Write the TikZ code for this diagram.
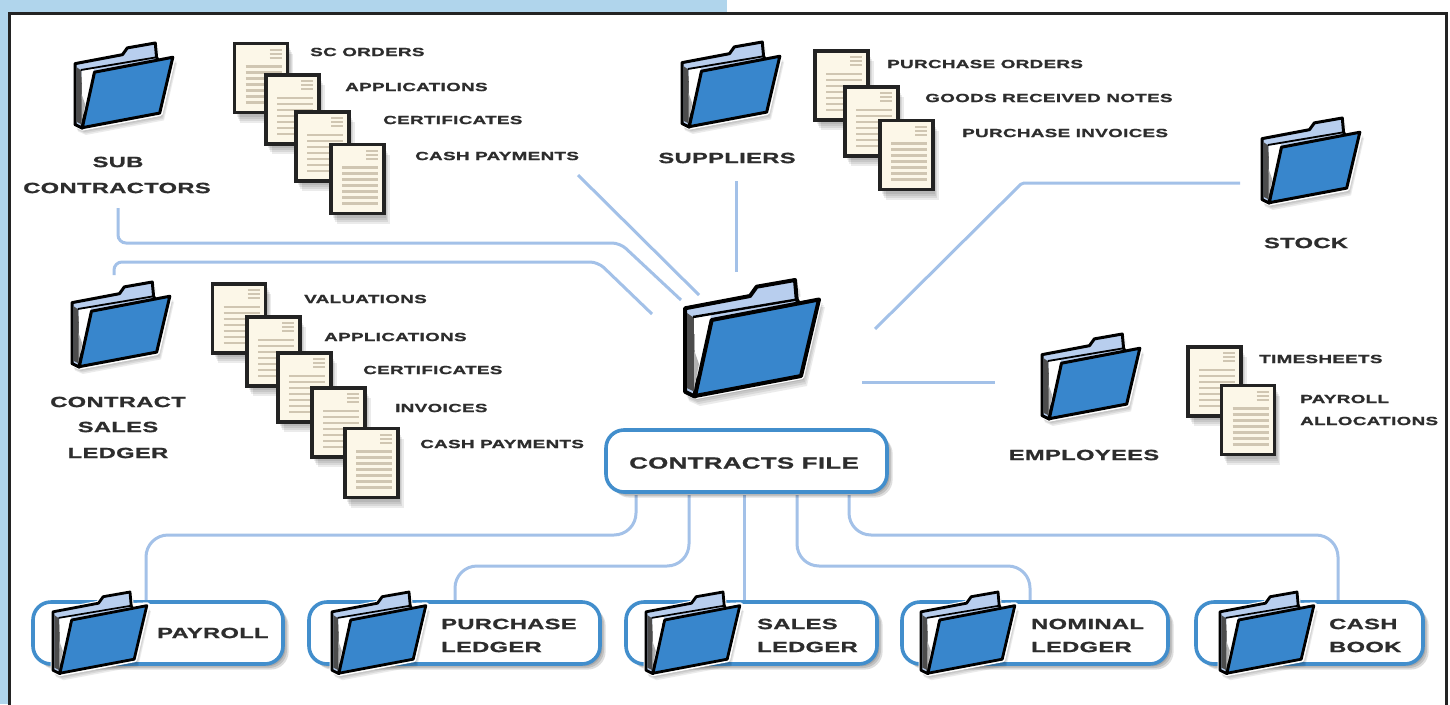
\documentclass[tikz,border=0pt]{standalone}
\usepackage{fontspec}
\newfontfamily\labelfont[FakeStretch=1.6,FakeBold=1.2,LetterSpace=2.5]{Liberation Sans Bold}
\definecolor{pagebg}{RGB}{176,213,236}
\definecolor{frameink}{RGB}{35,35,35}
\definecolor{linkblue}{RGB}{163,193,232}
\definecolor{boxblue}{RGB}{66,142,204}
\definecolor{folderblue}{RGB}{56,134,204}
\definecolor{tabblue}{RGB}{184,206,238}
\definecolor{papercream}{RGB}{252,247,232}
\definecolor{papertan}{RGB}{208,198,178}
\definecolor{textink}{RGB}{45,45,45}
\tikzset{
  x=1pt,y=-1pt,
  link/.style={draw=linkblue,line width=3pt,rounded corners=8pt},
  tinylabel/.style={font=\labelfont\fontsize{11.8}{11.8}\selectfont,text=textink,inner sep=0pt,anchor=west,yshift=-1pt},
  biglabel/.style={font=\labelfont\fontsize{14.8}{14.8}\selectfont,text=textink,inner sep=0pt,yshift=-1pt},
  filelabel/.style={font=\labelfont\fontsize{16.1}{16.1}\selectfont,text=textink,inner sep=0pt,yshift=-1pt},
  boxlabel/.style={font=\labelfont\fontsize{14.8}{14.8}\selectfont,text=textink,inner sep=0pt,anchor=west,yshift=-1pt},
  softshadow/.style={fill=black,fill opacity=.08,draw=none},
  labelbox/.style={draw=boxblue,line width=3.6pt,fill=white,rounded corners=18pt},
  pics/folder/.style={code={
    \foreach \d in {3,5,7,9}{
      \fill[softshadow,shift={(\d*.55,\d)}] (-1,28) -- (65,16) -- (72,7) -- (110,0) -- (112,19) -- (135,18) -- (117,97) -- (10,117) -- (-1,112) -- cycle;
    }
    \fill[white,draw=white,line width=5pt,line join=round] (0,28.3) -- (65,16) -- (71.7,6.7) -- (110,0) -- (111.7,19.3) -- (135,18.3) -- (116.7,96.7) -- (10,116.7) -- (0,111.7) -- cycle;
    \filldraw[fill=tabblue,draw=black,line width=#1,line join=round] (0,28.3) -- (65,16) -- (71.7,6.7) -- (110,0) -- (111.7,19.3) -- (116,28) -- (10,48) -- (10,116.7) -- (0,111.7) -- cycle;
    \fill[black!70] (2,33) -- (9,38) -- (10,112) -- (2,108) -- cycle;
    \fill[white] (9,38) -- (26,35) -- (10,104) -- cycle;
    \fill[black!30] (9,70) -- (14,84) -- (10,104) -- (9,110) -- cycle;
    \draw[black,line width=.6*#1] (8,37) -- (112,19.5);
    \filldraw[fill=folderblue,draw=black,line width=#1,line join=round] (26.7,40) -- (134,19.5) -- (116,96) -- (10,116) -- cycle;
  }},
  pics/sheet/.style={code={
    \foreach \d in {4,6,8,10}{
      \fill[softshadow,shift={(\d*.55,\d)}] (0,0) rectangle (53,69);
    }
    \filldraw[fill=papercream,draw=frameink,line width=3.4pt] (0,0) rectangle (53,69);
    \foreach \yy in {6,10,14}{\draw[papertan,line width=2pt] (35,\yy) -- (47,\yy);}
    \foreach \yy in {23,29,35,41,47,53,59}{\draw[papertan,line width=2.2pt] (11,\yy) -- (47,\yy);}
  }},
}
\newcommand{\labelboxat}[4]{%
  \foreach \d in {3,5,7}{\fill[softshadow,fill opacity=.13,rounded corners=18pt,shift={(\d*.8,\d*.8)}] (#1,#2) rectangle (#3,#4);}
  \path[labelbox] (#1,#2) rectangle (#3,#4);
}
\begin{document}
\begin{tikzpicture}
\useasboundingbox (0,0) rectangle (1450,704);
\fill[white] (0,0) rectangle (1450,704);
\fill[pagebg] (0,0) rectangle (727,12);
\fill[pagebg] (0,0) rectangle (9,704);
\draw[frameink,line width=3pt] (9.5,706) -- (9.5,13) -- (1446,13) -- (1446,706);

\coordinate (a1) at (118,208); \coordinate (a2) at (681,300);
\coordinate (b1) at (114,275); \coordinate (b2) at (652,314);
\coordinate (c1) at (578,175); \coordinate (c2) at (699,295);
\coordinate (d1) at (736,181); \coordinate (d2) at (736,272);
\coordinate (e1) at (1240,183); \coordinate (e2) at (875,329);
\coordinate (g1) at (862,382); \coordinate (g2) at (995,382);
\coordinate (p1) at (636,495); \coordinate (p2) at (146,600);
\coordinate (q1) at (689,495); \coordinate (q2) at (455,604);
\coordinate (r1) at (744,495); \coordinate (r2) at (744,604);
\coordinate (s1) at (797,495); \coordinate (s2) at (1030,604);
\coordinate (t1) at (849,495); \coordinate (t2) at (1338,604);

\draw[link] (a1) -- (118,243) -- (620,243) -- (a2);
\draw[link] (b1) -- (114,262) -- (598,262) -- (b2);
\draw[link] (c1) -- (c2);
\draw[link] (d1) -- (d2);
\draw[link,rounded corners=2pt] (e1) -- (1022,183) -- (e2);
\draw[link] (g1) -- (g2);
\draw[link,rounded corners=22pt] (p1) -- (636,535) -- (146,535) -- (p2);
\draw[link,rounded corners=22pt] (q1) -- (689,566) -- (455,566) -- (q2);
\draw[link] (r1) -- (r2);
\draw[link,rounded corners=22pt] (s1) -- (797,566) -- (1030,566) -- (s2);
\draw[link,rounded corners=22pt] (t1) -- (849,535) -- (1338,535) -- (t2);

\pic at (234.5,43.5) {sheet}; \pic at (266,75) {sheet}; \pic at (296,112) {sheet}; \pic at (331,144.5) {sheet};
\pic at (815,51) {sheet}; \pic at (845,87) {sheet}; \pic at (880,120.5) {sheet};
\pic at (212.5,284) {sheet}; \pic at (247,317) {sheet}; \pic at (278,353) {sheet}; \pic at (312,388) {sheet}; \pic at (345,428.5) {sheet};
\pic at (1188,347) {sheet}; \pic at (1221.5,385.5) {sheet};

\pic[scale=.73] at (75,43) {folder=3pt};
\pic[scale=.73] at (72,282) {folder=3pt};
\pic[scale=.73] at (682,42) {folder=3pt};
\pic[scale=.73] at (1262,118) {folder=3pt};
\pic[scale=.73] at (1042,334) {folder=3pt};
\pic at (685,280) {folder=4pt};

\labelboxat{606}{430}{887}{492}
\node[filelabel] (cf) at (744,462) {CONTRACTS FILE};

\labelboxat{33}{602}{283}{664}
\labelboxat{309}{602}{600}{664}
\labelboxat{626}{602}{877}{664}
\labelboxat{902}{602}{1168}{664}
\labelboxat{1196}{602}{1423}{664}
\pic[scale=.7] at (53,592) {folder=2.8pt};
\pic[scale=.7] at (332,592) {folder=2.8pt};
\pic[scale=.7] at (646,592) {folder=2.8pt};
\pic[scale=.7] at (921,592) {folder=2.8pt};
\pic[scale=.7] at (1220,592) {folder=2.8pt};

\node[boxlabel] (l1) at (157,632) {PAYROLL};
\node[boxlabel] (l2) at (441,623) {PURCHASE};
\node[boxlabel] (l3) at (441,646) {LEDGER};
\node[boxlabel] (l4) at (757,623) {SALES};
\node[boxlabel] (l5) at (757,646) {LEDGER};
\node[boxlabel] (l6) at (1031,623) {NOMINAL};
\node[boxlabel] (l7) at (1031,646) {LEDGER};
\node[boxlabel] (l8) at (1329,623) {CASH};
\node[boxlabel] (l9) at (1329,646) {BOOK};

\node[biglabel] (n1) at (118,161) {SUB};
\node[biglabel] (n2) at (117,187) {CONTRACTORS};
\node[biglabel] (n3) at (727,157) {SUPPLIERS};
\node[biglabel] (n4) at (1306,242) {STOCK};
\node[biglabel] (n5) at (118,401) {CONTRACT};
\node[biglabel] (n6) at (118,426) {SALES};
\node[biglabel] (n7) at (118,452) {LEDGER};
\node[biglabel] (n8) at (1084,454) {EMPLOYEES};

\node[tinylabel] (m1) at (310,51) {SC ORDERS};
\node[tinylabel] (m2) at (345,86) {APPLICATIONS};
\node[tinylabel] (m3) at (383,119) {CERTIFICATES};
\node[tinylabel] (m4) at (415,155) {CASH PAYMENTS};
\node[tinylabel] (m5) at (887,63) {PURCHASE ORDERS};
\node[tinylabel] (m6) at (925,97) {GOODS RECEIVED NOTES};
\node[tinylabel] (m7) at (962,132) {PURCHASE INVOICES};
\node[tinylabel] (m8) at (304,298) {VALUATIONS};
\node[tinylabel] (m9) at (324,336) {APPLICATIONS};
\node[tinylabel] (m10) at (363,369) {CERTIFICATES};
\node[tinylabel] (m11) at (395,407) {INVOICES};
\node[tinylabel] (m12) at (420,443) {CASH PAYMENTS};
\node[tinylabel] (m13) at (1259,358) {TIMESHEETS};
\node[tinylabel] (m14) at (1300,398) {PAYROLL};
\node[tinylabel] (m15) at (1300,420) {ALLOCATIONS};
\end{tikzpicture}
\end{document}
